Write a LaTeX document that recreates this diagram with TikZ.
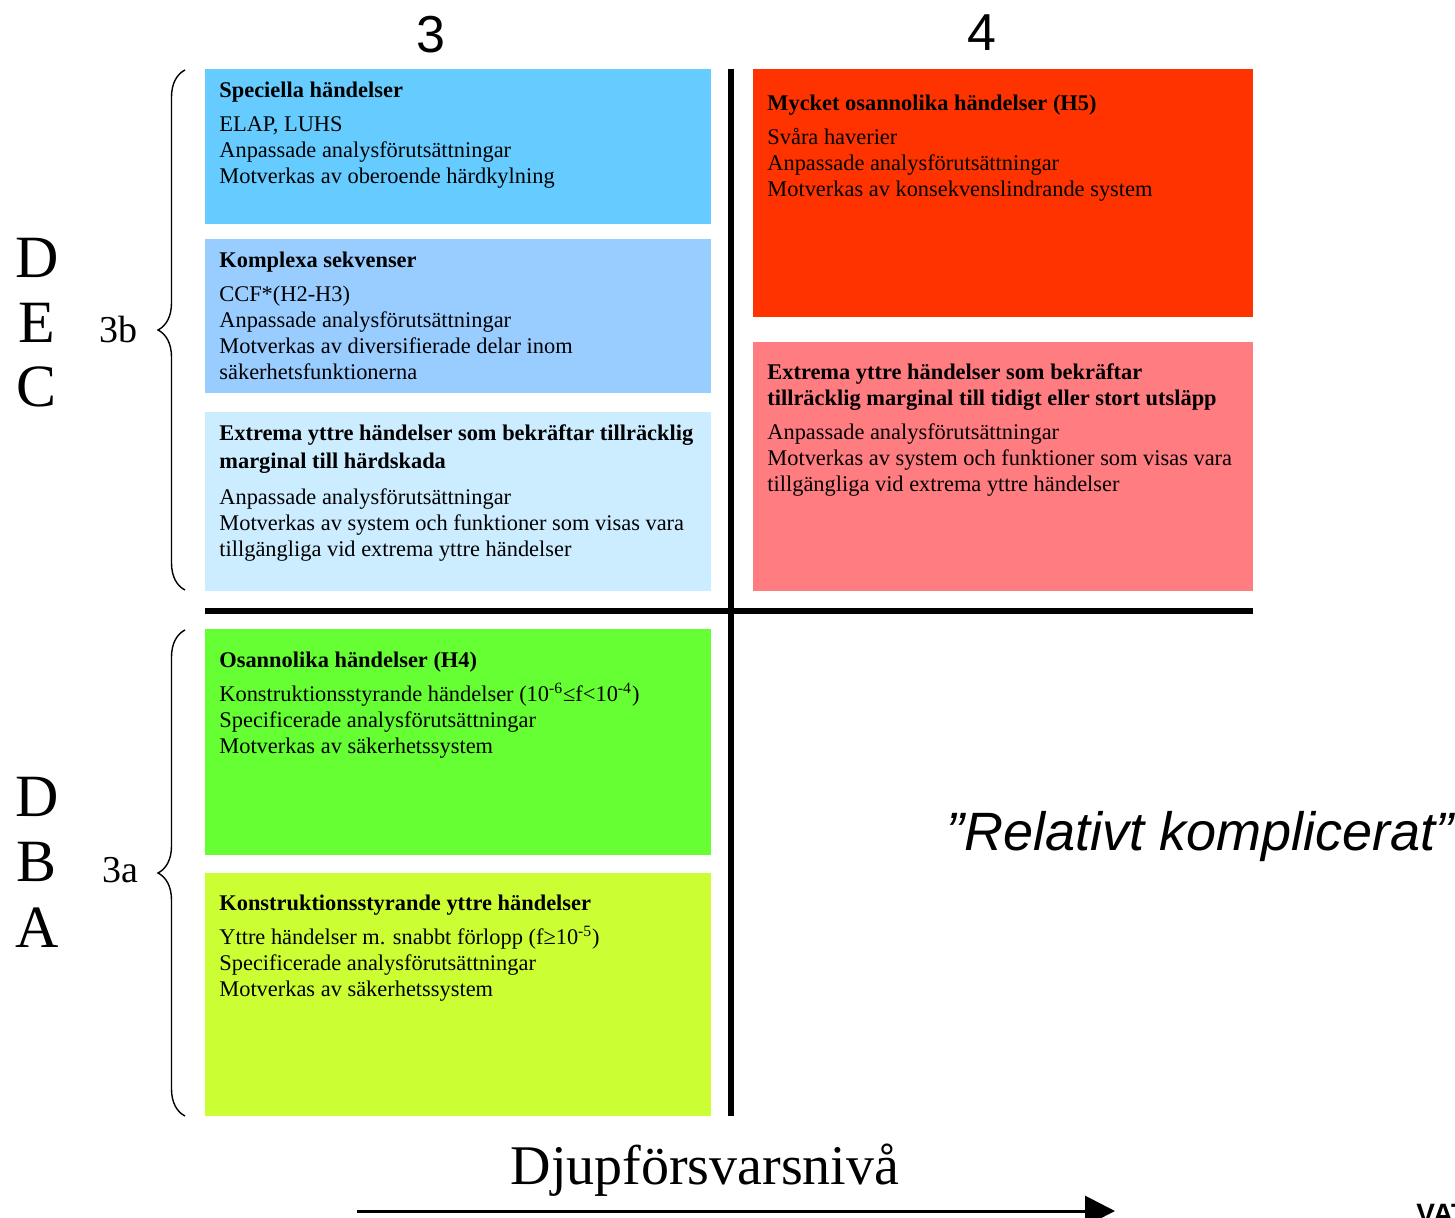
\documentclass[tikz,border=0pt]{standalone}
\usepackage{fontspec}
\setmainfont{Liberation Serif}
\setsansfont{Liberation Sans}
\usetikzlibrary{positioning,arrows.meta,decorations.pathreplacing}

\definecolor{speccol}{HTML}{66CCFF}
\definecolor{komplcol}{HTML}{99CCFF}
\definecolor{extrcol}{HTML}{CCECFF}
\definecolor{h5col}{HTML}{FF3300}
\definecolor{extr4col}{HTML}{FF7C80}
\definecolor{h4col}{HTML}{66FF33}
\definecolor{konstrcol}{HTML}{CCFF33}

\begin{document}
\begin{tikzpicture}[x=0.5pt, y=-0.5pt,
  lbox/.style = {anchor=north west, inner sep=0, minimum width=253pt},
  rbox/.style = {anchor=north west, inner sep=0, minimum width=250pt},
  txt/.style = {inner sep=0, align=left, font=\fontsize{11.2}{13}\selectfont},
  level/.style = {font=\fontsize{30}{30}\selectfont},
  sub/.style = {font=\fontsize{19}{19}\selectfont},
  colnum/.style = {font=\sffamily\fontsize{26}{26}\selectfont},
  grid/.style = {line width=3pt},
  curly/.style = {decorate, decoration={brace, amplitude=13.5pt}, line width=0.7pt}] 
\useasboundingbox (0,0) rectangle (1455,1218);
\clip (0,0) rectangle (1455,1218);

% column numbers
\node[colnum] (n3) at (431,35) {3};
\node[colnum] (n4) at (982,33) {4};

% left column
\node[lbox, fill=speccol, minimum height=77.5pt] (spec) at (205,69) {};
\node[lbox, fill=komplcol, minimum height=77pt] (kompl) at (205,239) {};
\node[lbox, fill=extrcol, minimum height=89.5pt] (extr) at (205,412) {};
\node[lbox, fill=h4col, minimum height=113pt] (h4) at (205,629) {};
\node[lbox, fill=konstrcol, minimum height=121.5pt] (konstr) at (205,873) {};

% right column
\node[rbox, fill=h5col, minimum height=124pt] (h5) at (753,69) {};
\node[rbox, fill=extr4col, minimum height=124.5pt] (extr4) at (753,342) {};

\node[txt, below right=6.5pt and 7pt of spec.north west] (spectxt)
  {\textbf{Speciella händelser}\\[4pt]
   ELAP, LUHS\\ Anpassade analysförutsättningar\\ Motverkas av oberoende härdkylning};
\node[txt, below right=6.5pt and 7pt of kompl.north west] (kompltxt)
  {\textbf{Komplexa sekvenser}\\[4pt]
   CCF*(H2-H3)\\ Anpassade analysförutsättningar\\ Motverkas av diversifierade delar inom\\ säkerhetsfunktionerna};
\node[txt, below right=6pt and 7pt of extr.north west] (extrtxt)
  {\textbf{Extrema yttre händelser som bekräftar tillräcklig}\\[1pt]
   \textbf{marginal till härdskada}\\[5pt]
   Anpassade analysförutsättningar\\ Motverkas av system och funktioner som visas vara\\ tillgängliga vid extrema yttre händelser};
\node[txt, below right=11.5pt and 7pt of h4.north west] (h4txt)
  {\textbf{Osannolika händelser (H4)}\\[4pt]
   Konstruktionsstyrande händelser (10\textsuperscript{-6}≤f<10\textsuperscript{-4})\\ Specificerade analysförutsättningar\\ Motverkas av säkerhetssystem};
\node[txt, below right=11pt and 7pt of konstr.north west] (konstrtxt)
  {\textbf{Konstruktionsstyrande yttre händelser}\\[4pt]
   Yttre händelser m. snabbt förlopp (f≥10\textsuperscript{-5})\\ Specificerade analysförutsättningar\\ Motverkas av säkerhetssystem};
\node[txt, below right=13pt and 7pt of h5.north west] (h5txt)
  {\textbf{Mycket osannolika händelser (H5)}\\[4pt]
   Svåra haverier\\ Anpassade analysförutsättningar\\ Motverkas av konsekvenslindrande system};
\node[txt, below right=10.5pt and 7pt of extr4.north west] (extr4txt)
  {\textbf{Extrema yttre händelser som bekräftar}\\
   \textbf{tillräcklig marginal till tidigt eller stort utsläpp}\\[4pt]
   Anpassade analysförutsättningar\\ Motverkas av system och funktioner som visas vara\\ tillgängliga vid extrema yttre händelser};

% dividing lines
\draw[grid] (731,69) -- (731,1116);
\draw[grid] (205,611) -- (1253,611);

% levels
\node[level] (d1) at (37,258) {D};
\node[level] (e1) at (37,323) {E};
\node[level] (c1) at (37,387) {C};
\node[level] (d2) at (37,797) {D};
\node[level] (b2) at (37,862) {B};
\node[level] (a2) at (37,928) {A};
\node[sub] (s3b) at (118,330) {3b};
\node[sub] (s3a) at (120,870) {3a};
\draw[curly] (185,590) -- (185,70);
\draw[curly] (185,1116) -- (185,630);

% axis
\node[font=\fontsize{28}{28}\selectfont] (axis) at (705,1170) {Djupförsvarsnivå};
\coordinate (astart) at (357,1211);
\coordinate (aend) at (1115,1211);
\draw[line width=1.5pt, -{Triangle[length=15pt, width=15pt]}] (astart) -- (aend);

\node[font=\sffamily\itshape\fontsize{27}{27}\selectfont] (rel) at (1200,837) {”Relativt komplicerat”};
\node[anchor=north west, inner sep=0, font=\sffamily\bfseries\fontsize{14}{14}\selectfont] (logo) at (1416,1204) {VATTENFALL};
\end{tikzpicture}
\end{document}
